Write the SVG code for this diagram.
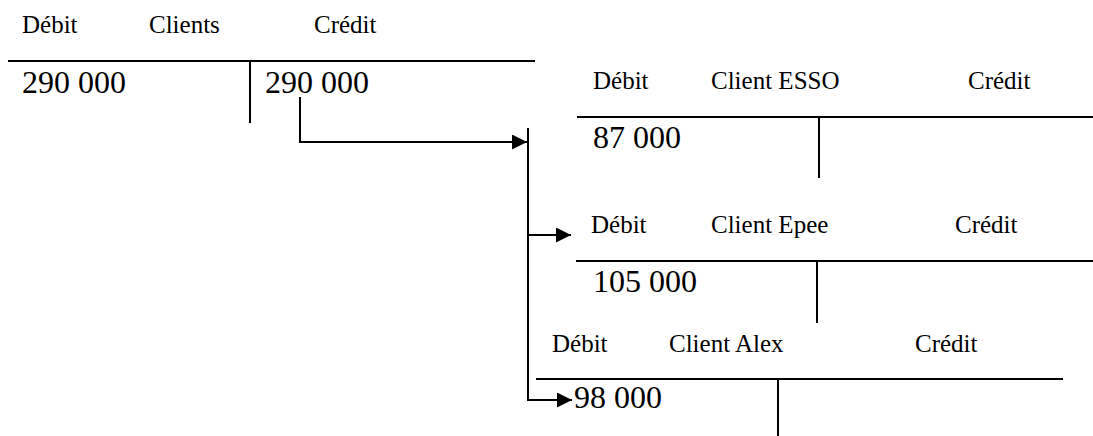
<svg xmlns="http://www.w3.org/2000/svg" width="1093" height="436" viewBox="0 0 1093 436">
<style>
.h{font-family:"Liberation Serif","Times New Roman",serif;font-size:25px;fill:#000}
.n{font-family:"Liberation Serif","Times New Roman",serif;font-size:32px;fill:#000}
.l{stroke:#000;stroke-width:2;fill:none}
</style>
<defs>
<marker id="arr" markerUnits="userSpaceOnUse" markerWidth="15" markerHeight="15" refX="15" refY="7.5" orient="auto">
<path d="M0,0 L15,7.5 L0,15 z" fill="#000"/>
</marker>
</defs>
<rect width="1093" height="436" fill="#fff"/>
<g id="clients">
<text class="h" x="22" y="33">Débit</text>
<text class="h" x="149" y="33">Clients</text>
<text class="h" x="314" y="33">Crédit</text>
<line class="l" x1="8" y1="61" x2="535" y2="61"/>
<line class="l" x1="250" y1="61" x2="250" y2="123"/>
<text class="n" x="22" y="93">290 000</text>
<text class="n" x="265" y="93">290 000</text>
</g>
<g id="esso">
<text class="h" x="593" y="89">Débit</text>
<text class="h" x="711" y="89">Client ESSO</text>
<text class="h" x="968" y="89">Crédit</text>
<line class="l" x1="577" y1="117" x2="1093" y2="117"/>
<line class="l" x1="819" y1="117" x2="819" y2="178"/>
<text class="n" x="593" y="148">87 000</text>
</g>
<g id="epee">
<text class="h" x="591" y="233">Débit</text>
<text class="h" x="711" y="233">Client Epee</text>
<text class="h" x="955" y="233">Crédit</text>
<line class="l" x1="576" y1="261" x2="1093" y2="261"/>
<line class="l" x1="817" y1="261" x2="817" y2="323"/>
<text class="n" x="593" y="292">105 000</text>
</g>
<g id="alex">
<text class="h" x="552" y="352">Débit</text>
<text class="h" x="669" y="352">Client Alex</text>
<text class="h" x="915" y="352">Crédit</text>
<line class="l" x1="536" y1="379" x2="1063" y2="379"/>
<line class="l" x1="778" y1="379" x2="778" y2="436"/>
<text class="n" x="574" y="408">98 000</text>
</g>
<g id="connectors">
<path class="l" d="M300,97 V142 H527" marker-end="url(#arr)"/>
<line class="l" x1="528" y1="128" x2="528" y2="401"/>
<path class="l" d="M528,235 H571" marker-end="url(#arr)"/>
<path class="l" d="M528,400 H572" marker-end="url(#arr)"/>
</g>
</svg>
